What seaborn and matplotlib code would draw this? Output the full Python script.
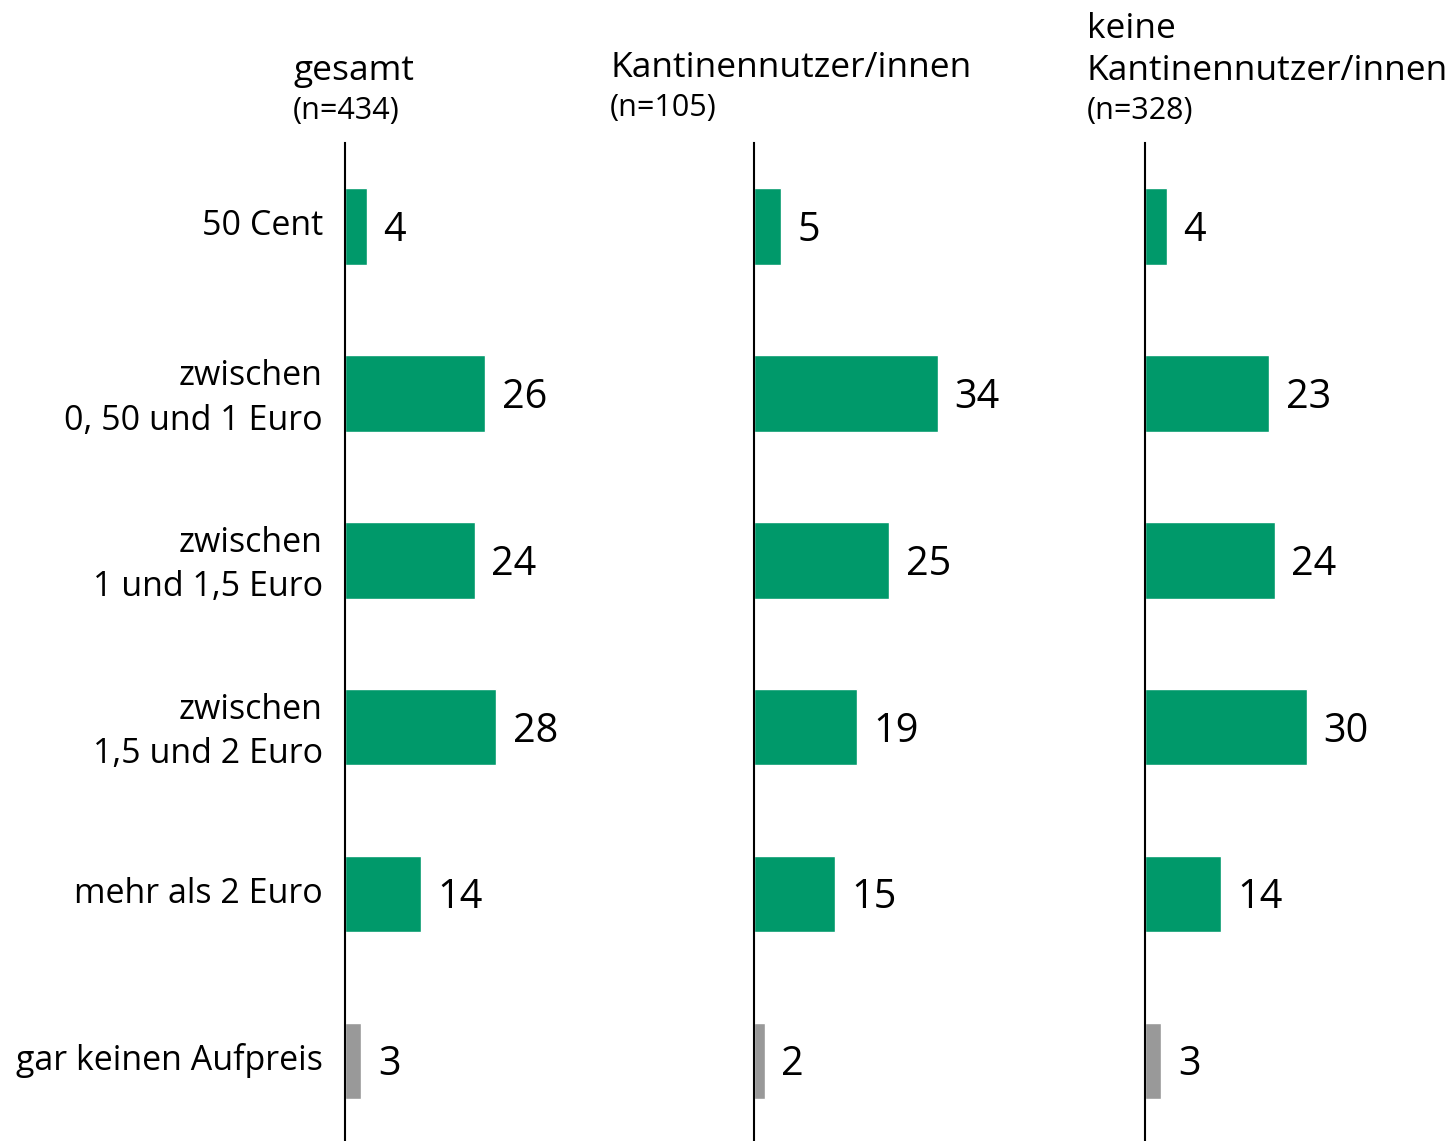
import matplotlib
matplotlib.use("Agg")
import matplotlib.pyplot as plt
import matplotlib.transforms as mtransforms
import seaborn as sns
import pandas as pd

sns.set_theme(style="white")
plt.rcParams['font.family'] = ['Open Sans', 'DejaVu Sans']
plt.rcParams['text.color'] = 'black'
plt.rcParams['ytick.color'] = 'black'
plt.rcParams['ytick.labelcolor'] = 'black'

categories = ["50 Cent", "zwischen\n0, 50 und 1 Euro", "zwischen\n1 und 1,5 Euro",
              "zwischen\n1,5 und 2 Euro", "mehr als 2 Euro", "gar keinen Aufpreis"]
gesamt = [4, 26, 24, 28, 14, 3]
nutzer = [5, 34, 25, 19, 15, 2]
keine = [4, 23, 24, 30, 14, 3]
bar_kind = ["green", "green", "green", "green", "green", "gray"]

palette = {"green": "#00996A", "gray": "#999999"}

W, H = 1452, 1141
fig = plt.figure(figsize=(W / 100, H / 100), dpi=100)

panels = [
    (gesamt, 345),
    (nutzer, 754),
    (keine, 1145),
]

top_px = 143
for i, (vals, left_px) in enumerate(panels):
    ax = fig.add_axes([left_px / W, 0, 216 / W, (H - top_px) / H])
    df = pd.DataFrame({"cat": categories, "val": vals, "kind": bar_kind})
    sns.barplot(data=df, x="val", y="cat", hue="kind", palette=palette,
                orient="h", width=0.46, dodge=False, legend=False, ax=ax,
                saturation=1)
    ax.set_xlim(0, 40)
    ax.set_ylim(5.48, -0.5)
    for sp in ["top", "right", "bottom"]:
        ax.spines[sp].set_visible(False)
    ax.spines["left"].set_color("black")
    ax.spines["left"].set_linewidth(1.5)
    ax.set_xticks([])
    ax.set_xlabel("")
    ax.set_ylabel("")
    ax.tick_params(axis="y", length=0, pad=16, labelcolor="black")
    if i == 0:
        ax.set_yticks(range(len(categories)))
        ax.set_yticklabels(categories, fontsize=24.5, linespacing=1.4, ha="right",
                           color="black")
        off = mtransforms.ScaledTranslation(0, 3 / 72, fig.dpi_scale_trans)
        for lbl in ax.get_yticklabels():
            lbl.set_transform(lbl.get_transform() + off)
    else:
        ax.set_yticks([])
    for j, v in enumerate(vals):
        ax.annotate(f"{v}", xy=(v, j), xytext=(12, -3), textcoords="offset points",
                    ha="left", va="center", fontsize=28.5, color="black")

def ftext(x, y, s, size):
    fig.text(x / W, 1 - y / H, s, fontsize=size, ha="left", va="baseline", color="black")

ftext(293, 80, "gesamt", 25.5)
ftext(293, 119, "(n=434)", 22)
ftext(610, 77, "Kantinennutzer/innen", 25.5)
ftext(610, 116, "(n=105)", 22)
ftext(1087, 38, "keine", 25.5)
ftext(1087, 80, "Kantinennutzer/innen", 25.5)
ftext(1087, 119, "(n=328)", 22)

fig.savefig("out.png", dpi=100, facecolor="white")
